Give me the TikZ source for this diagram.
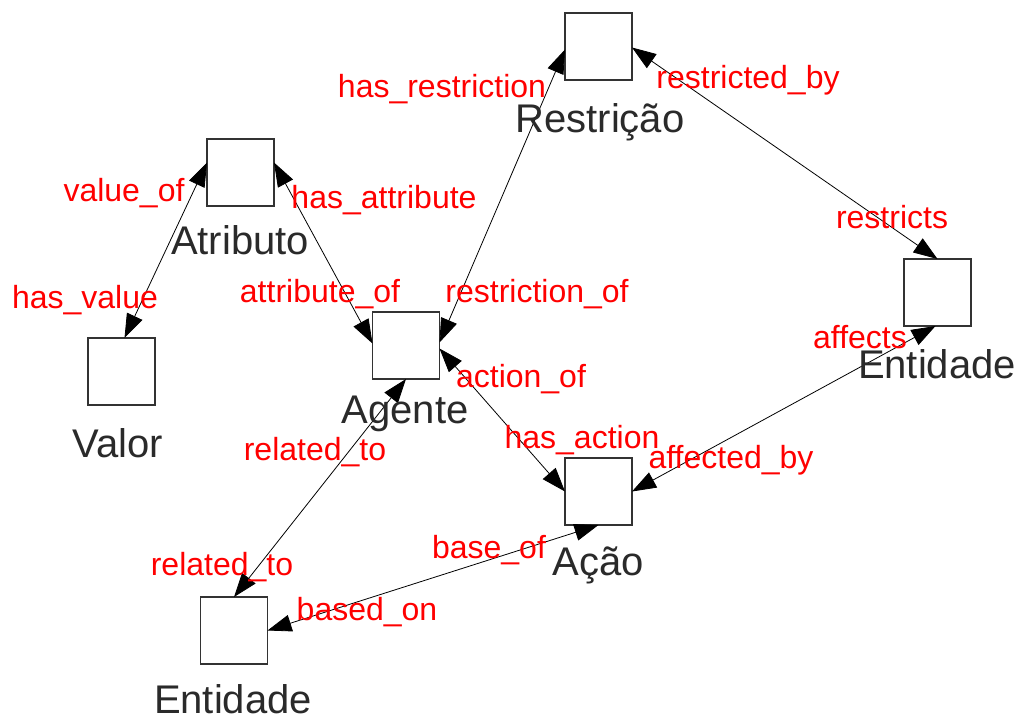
\documentclass[tikz,border=0pt]{standalone}
\usepackage{fontspec}
\setmainfont{Liberation Sans}
\usetikzlibrary{arrows.meta}
\definecolor{lblgray}{HTML}{2A2A2A}
\definecolor{lblred}{HTML}{FF0000}
\begin{document}
\begin{tikzpicture}[x=1pt,y=-1pt,
  box/.style={draw=black!80,line width=1.5pt,fill=white,minimum width=67pt,minimum height=67pt,inner sep=0pt,outer sep=0pt},
  nlabel/.style={text=lblgray,font=\fontsize{40}{44}\selectfont,anchor=base,inner sep=0pt},
  rel/.style={text=lblred,font=\fontsize{32}{36}\selectfont,anchor=base,inner sep=0pt},
  link/.style={line width=0.8pt,{Triangle[length=24pt,width=17pt]}-{Triangle[length=24pt,width=17pt]}}]
\path[use as bounding box,fill=white] (0,0) rectangle (1022,720);
% boxes
\node[box] (res) at (598.5,46.5) {};
\node[box] (atr) at (240.5,172.5) {};
\node[box] (val) at (121.5,371.5) {};
\node[box] (age) at (406,345.5) {};
\node[box] (entR) at (937.5,292.5) {};
\node[box] (aca) at (598.5,491.5) {};
\node[box] (entB) at (234,630.5) {};
% links
\draw[link] ([yshift=10pt]atr.west) -- ([xshift=3pt]val.north);
\draw[link] ([yshift=10pt]atr.east) -- ([yshift=2pt]age.west);
\draw[link] ([yshift=-3pt]res.west) -- ([yshift=3pt]age.east);
\draw[link] ([yshift=-1pt]res.east) -- (entR.north);
\draw[link] ([yshift=-3pt]age.east) -- (aca.west);
\draw[link] (age.south) -- (entB.north);
\draw[link] (aca.south) -- (entB.east);
\draw[link] (aca.east) -- ([xshift=-2pt]entR.south);
% names
\node[nlabel] (nres) at (600,132) {Restrição};
\node[nlabel] (natr) at (240,254) {Atributo};
\node[nlabel] (nval) at (118,457) {Valor};
\node[nlabel] (nage) at (405,423) {Agente};
\node[nlabel] (nentR) at (937,378) {Entidade};
\node[nlabel] (naca) at (598,575) {Ação};
\node[nlabel] (nentB) at (233,713) {Entidade};
% relation labels
\node[rel] (l1) at (442,97) {has\_restriction};
\node[rel] (l2) at (748,88) {restricted\_by};
\node[rel] (l3) at (124,201) {value\_of};
\node[rel] (l4) at (384,208) {has\_attribute};
\node[rel] (l5) at (85,308) {has\_value};
\node[rel] (l6) at (320,302) {attribute\_of};
\node[rel] (l7) at (537,302) {restriction\_of};
\node[rel] (l8) at (892,228) {restricts};
\node[rel] (l9) at (860,348) {affects};
\node[rel] (l10) at (521,387) {action\_of};
\node[rel] (l11) at (582,448) {has\_action};
\node[rel] (l12) at (731,468) {affected\_by};
\node[rel] (l13) at (315,460) {related\_to};
\node[rel] (l14) at (222,575) {related\_to};
\node[rel] (l15) at (489,558) {base\_of};
\node[rel] (l16) at (367,620) {based\_on};
\end{tikzpicture}
\end{document}
